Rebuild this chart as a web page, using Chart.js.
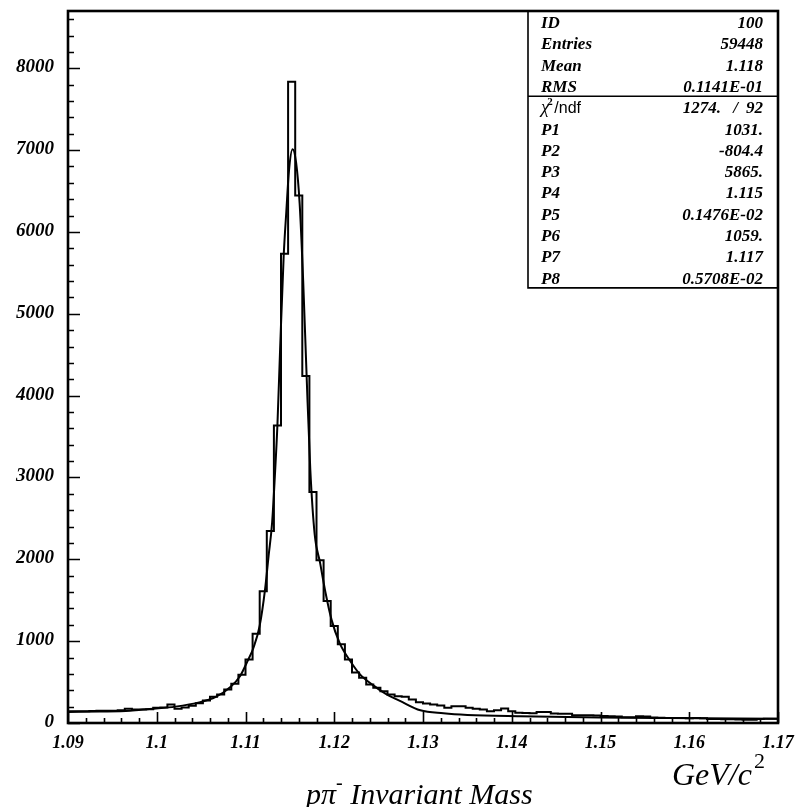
<!DOCTYPE html>
<html>
<head>
<meta charset="utf-8">
<script src="https://cdn.jsdelivr.net/npm/chart.js@4.4.1/dist/chart.umd.min.js"></script>
<style>
  html, body { margin: 0; padding: 0; background: #fff; }
  #wrap { width: 797px; height: 807px; }
</style>
</head>
<body>
<div id="wrap"><canvas id="massChart" width="797" height="807"></canvas></div>
<script>
// histogram: 100 bins of 0.0008 GeV starting at 1.09
const binStart = 1.09;
const binWidth = 0.0008;
const counts = [
  145, 145, 145, 148, 150, 150, 150, 155, 175, 165,
  165, 168, 185, 188, 226, 175, 190, 210, 240, 275,
  320, 349, 410, 480, 590, 777, 1090, 1610, 2345, 3635,
  5735, 7835, 6445, 4240, 2822, 1990, 1491, 1185, 961, 777,
  618, 553, 471, 431, 389, 349, 328, 320, 288, 255,
  239, 226, 214, 186, 206, 206, 186, 174, 165, 145,
  157, 178, 145, 125, 122, 120, 135, 135, 115, 114,
  112, 95, 94, 94, 92, 85, 82, 80, 70, 69,
  82, 80, 66, 64, 62, 62, 60, 58, 60, 58,
  50, 48, 46, 46, 42, 40, 40, 48, 52, 52
];

// fitted curve
const fitX = [
  1.0900, 1.0936, 1.0970, 1.0992, 1.1021, 1.1049, 1.1066, 1.1083, 1.1094, 1.1102,
  1.1109, 1.1116, 1.1122, 1.1126, 1.1130, 1.1133, 1.1136, 1.1139, 1.1143, 1.1146,
  1.1149, 1.1153, 1.1157, 1.1161, 1.1165, 1.1169, 1.1173, 1.1178, 1.1184, 1.1190,
  1.1197, 1.1206, 1.1218, 1.1229, 1.1244, 1.1259, 1.1274, 1.1297, 1.1323, 1.1350,
  1.1409, 1.1499, 1.1575, 1.1699
];
const fitY = [
  135, 140, 150, 172, 200, 255, 315, 440, 575, 750,
  920, 1190, 1630, 2040, 2450, 3000, 3650, 4570, 5700, 6250,
  6750, 7010, 6850, 6350, 5400, 4200, 3100, 2300, 1960, 1600,
  1260, 980, 757, 594, 460, 349, 270, 155, 118, 98,
  82, 68, 61, 52
];

const xMin = 1.09, xMax = 1.17;
const yMin = 0, yMax = 8700;
const yTickValues = [0, 1000, 2000, 3000, 4000, 5000, 6000, 7000, 8000];

const statLabels = ['ID', 'Entries', 'Mean', 'RMS'];
const statValues = ['100', '59448', '1.118', '0.1141E-01'];
const chiValue = ['1274.', '/', '92'];
const parLabels = ['P1', 'P2', 'P3', 'P4', 'P5', 'P6', 'P7', 'P8'];
const parValues = ['1031.', '-804.4', '5865.', '1.115', '0.1476E-02', '1059.', '1.117', '0.5708E-02'];

const serif = "'Liberation Serif', 'DejaVu Serif', serif";
const sans = "'Liberation Sans', 'DejaVu Sans', sans-serif";

const histPoints = counts.map((c, i) => ({ x: binStart + i * binWidth, y: c }));
histPoints.push({ x: binStart + counts.length * binWidth, y: counts[counts.length - 1] });
const curvePoints = fitX.map((x, i) => ({ x: x, y: fitY[i] }));

// frame, inward ticks, y labels, stats box and axis titles
const pawDecor = {
  id: 'pawDecor',
  afterDraw(chart) {
    const { ctx, chartArea: a, scales: { x, y } } = chart;
    ctx.save();
    ctx.strokeStyle = '#000';
    ctx.fillStyle = '#000';

    ctx.lineWidth = 1.6;
    ctx.beginPath();
    for (let v = 0; v <= yMax; v += 200) {
      const py = Math.round(y.getPixelForValue(v)) + 0.5;
      const len = v % 1000 === 0 ? 12 : 6;
      ctx.moveTo(a.left, py);
      ctx.lineTo(a.left + len, py);
    }
    for (let i = 0; i <= 40; i++) {
      const px = Math.round(x.getPixelForValue(xMin + i * 0.002)) + 0.5;
      const len = i % 5 === 0 ? 11 : 5;
      ctx.moveTo(px, a.bottom);
      ctx.lineTo(px, a.bottom - len);
    }
    ctx.stroke();

    ctx.lineWidth = 2.6;
    ctx.strokeRect(a.left, a.top, a.right - a.left, a.bottom - a.top);

    // y tick labels
    ctx.font = `italic bold 19px ${serif}`;
    ctx.textAlign = 'right';
    ctx.textBaseline = 'middle';
    yTickValues.forEach(v => {
      ctx.fillText(String(v), a.left - 14, y.getPixelForValue(v) - 1);
    });

    // stats box
    const boxL = 528, rowH = 21.3, boxT = a.top;
    const boxB = boxT + 13 * rowH;
    ctx.lineWidth = 1.6;
    ctx.beginPath();
    ctx.moveTo(boxL, boxT);
    ctx.lineTo(boxL, boxB);
    ctx.lineTo(a.right, boxB);
    ctx.moveTo(boxL, boxT + 4 * rowH);
    ctx.lineTo(a.right, boxT + 4 * rowH);
    ctx.stroke();

    const labX = boxL + 13, valX = a.right - 15;
    const base = i => boxT + 17 + i * rowH;
    ctx.font = `italic bold 17px ${serif}`;
    ctx.textBaseline = 'alphabetic';
    statLabels.forEach((t, i) => {
      ctx.textAlign = 'left';
      ctx.fillText(t, labX, base(i));
      ctx.textAlign = 'right';
      ctx.fillText(statValues[i], valX, base(i));
    });
    // chi2 / ndf row
    ctx.textAlign = 'left';
    ctx.font = `italic 19px ${serif}`;
    ctx.fillText('\u03c7', labX, base(4));
    const cx = labX + ctx.measureText('\u03c7').width;
    ctx.font = `bold 11px ${serif}`;
    ctx.fillText('2', cx - 2, base(4) - 8);
    ctx.font = `16px ${sans}`;
    ctx.fillText('/ndf', cx + 5, base(4));
    ctx.font = `italic bold 17px ${serif}`;
    ctx.textAlign = 'right';
    ctx.fillText(chiValue[2], valX, base(4));
    ctx.fillText(chiValue[1], valX - 25, base(4));
    ctx.fillText(chiValue[0], valX - 42, base(4));
    parLabels.forEach((t, i) => {
      ctx.textAlign = 'left';
      ctx.fillText(t, labX, base(5 + i));
      ctx.textAlign = 'right';
      ctx.fillText(parValues[i], valX, base(5 + i));
    });

    // axis titles
    ctx.textAlign = 'left';
    ctx.font = `italic 30px ${serif}`;
    let tx = 306;
    const ty = 804;
    ctx.fillText('p\u03c0', tx, ty);
    tx += ctx.measureText('p\u03c0').width;
    ctx.font = `italic 20px ${serif}`;
    ctx.fillText('-', tx, ty - 15);
    tx += ctx.measureText('-').width;
    ctx.font = `italic 30px ${serif}`;
    ctx.fillText(' Invariant Mass', tx, ty);

    ctx.font = `italic 32px ${serif}`;
    ctx.fillText('GeV/c', 672, 785);
    const gx = 672 + ctx.measureText('GeV/c').width;
    ctx.font = `22px ${serif}`;
    ctx.fillText('2', gx + 2, 768);
    ctx.restore();
  }
};

new Chart(document.getElementById('massChart').getContext('2d'), {
  type: 'line',
  data: {
    datasets: [{
      label: 'histogram',
      data: histPoints,
      stepped: 'before',
      borderColor: '#000',
      borderWidth: 2,
      pointRadius: 0,
      fill: false
    }, {
      label: 'fit',
      data: curvePoints,
      cubicInterpolationMode: 'monotone',
      borderColor: '#000',
      borderWidth: 2,
      pointRadius: 0,
      fill: false
    }]
  },
  options: {
    responsive: false,
    animation: false,
    devicePixelRatio: 1,
    layout: { padding: { top: 11, right: 19, left: 0, bottom: 0 } },
    plugins: {
      legend: { display: false },
      tooltip: { enabled: false },
      title: { display: false }
    },
    scales: {
      x: {
        type: 'linear',
        min: xMin,
        max: xMax,
        grid: { display: false },
        border: { display: false },
        afterFit: s => { s.height = 84; s.paddingLeft = 0; s.paddingRight = 0; },
        ticks: {
          stepSize: 0.01,
          autoSkip: false,
          maxRotation: 0,
          padding: 2,
          color: '#000',
          font: { family: serif, size: 18, style: 'italic', weight: 'bold' },
          callback: v => String(parseFloat(Number(v).toFixed(3)))
        }
      },
      y: {
        type: 'linear',
        min: yMin,
        max: yMax,
        grid: { display: false },
        border: { display: false },
        afterFit: s => { s.width = 68; s.paddingTop = 0; s.paddingBottom = 0; },
        ticks: { display: false }
      }
    }
  },
  plugins: [pawDecor]
});
</script>
</body>
</html>
